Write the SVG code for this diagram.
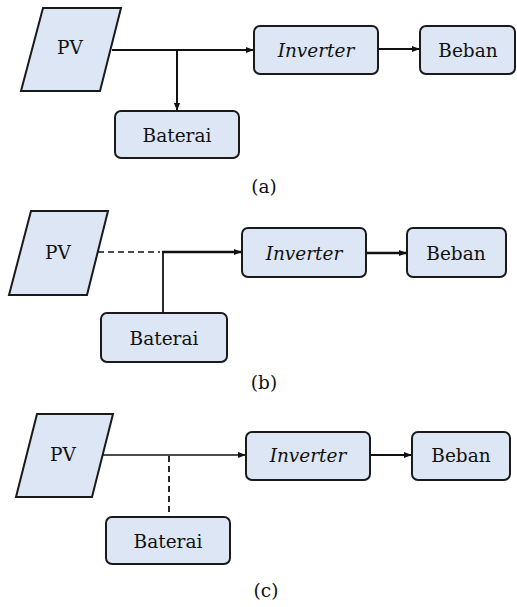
<svg xmlns="http://www.w3.org/2000/svg" width="517" height="607" viewBox="0 0 517 607">
<style>
.box{fill:#dde6f4;stroke:#1a1a1a;stroke-width:2}
.t{font-family:'DejaVu Serif',serif;font-size:18.5px;fill:#111;text-anchor:middle}
.i{font-style:italic}
.ln{fill:none;stroke:#111;stroke-width:2}
.dash{stroke-dasharray:6,4}
</style>
<defs>
<marker id="ah" viewBox="0 0 10 10" refX="9" refY="5" markerWidth="8" markerHeight="8" markerUnits="userSpaceOnUse" orient="auto">
<path d="M0,1 L10,5 L0,9 Z" fill="#111"/>
</marker>
</defs>
<rect width="517" height="607" fill="#fff"/>
<g id="a-pv"><polygon class="box" points="43,8 121,8 100,91 21,91"/><text class="t" x="70" y="54">PV</text></g>
<g id="a-inv"><rect class="box" x="254" y="26" width="124" height="48" rx="6"/><text class="t i" x="316" y="57">Inverter</text></g>
<g id="a-beban"><rect class="box" x="420" y="26" width="95" height="48" rx="6"/><text class="t" x="468" y="57">Beban</text></g>
<g id="a-bat"><rect class="box" x="115" y="111" width="124" height="47" rx="6"/><text class="t" x="177" y="142">Baterai</text></g>
<g id="a-cap"><text class="t" x="264" y="193">(a)</text></g>
<g id="b-pv"><polygon class="box" points="31,211 108,211 87,295 9,295"/><text class="t" x="58" y="259">PV</text></g>
<g id="b-inv"><rect class="box" x="242" y="228" width="124" height="49" rx="6"/><text class="t i" x="304" y="260">Inverter</text></g>
<g id="b-beban"><rect class="box" x="407" y="228" width="99" height="49" rx="6"/><text class="t" x="456" y="260">Beban</text></g>
<g id="b-bat"><rect class="box" x="101" y="313" width="126" height="49" rx="6"/><text class="t" x="164" y="345">Baterai</text></g>
<g id="b-cap"><text class="t" x="264" y="389">(b)</text></g>
<g id="c-pv"><polygon class="box" points="37,414 113,414 92,497 16,497"/><text class="t" x="63" y="461">PV</text></g>
<g id="c-inv"><rect class="box" x="246" y="432" width="124" height="48" rx="6"/><text class="t i" x="308" y="462">Inverter</text></g>
<g id="c-beban"><rect class="box" x="412" y="432" width="98" height="48" rx="6"/><text class="t" x="461" y="462">Beban</text></g>
<g id="c-bat"><rect class="box" x="106" y="517" width="124" height="47" rx="6"/><text class="t" x="168" y="548">Baterai</text></g>
<g id="c-cap"><text class="t" x="266" y="597">(c)</text></g>
<g id="connectors">
<line class="ln" x1="112" y1="50" x2="253" y2="50" marker-end="url(#ah)"/>
<line class="ln" x1="177" y1="50" x2="177" y2="110" marker-end="url(#ah)"/>
<line class="ln" x1="378" y1="49" x2="419" y2="49" marker-end="url(#ah)"/>
<line class="ln dash" x1="98" y1="252" x2="160" y2="252" style="stroke-width:1.5"/>
<line class="ln" x1="162" y1="252" x2="241" y2="252" marker-end="url(#ah)" style="stroke-width:2.5"/>
<line class="ln" x1="163" y1="252" x2="163" y2="313" style="stroke-width:1.8"/>
<line class="ln" x1="366" y1="253" x2="406" y2="253" marker-end="url(#ah)" style="stroke-width:2.5"/>
<line class="ln" x1="103" y1="455" x2="245" y2="455" marker-end="url(#ah)" style="stroke-width:1.6"/>
<line class="ln dash" x1="169" y1="456" x2="169" y2="517" style="stroke-width:1.8"/>
<line class="ln" x1="370" y1="455" x2="411" y2="455" marker-end="url(#ah)" style="stroke-width:1.8"/>
</g>
</svg>
